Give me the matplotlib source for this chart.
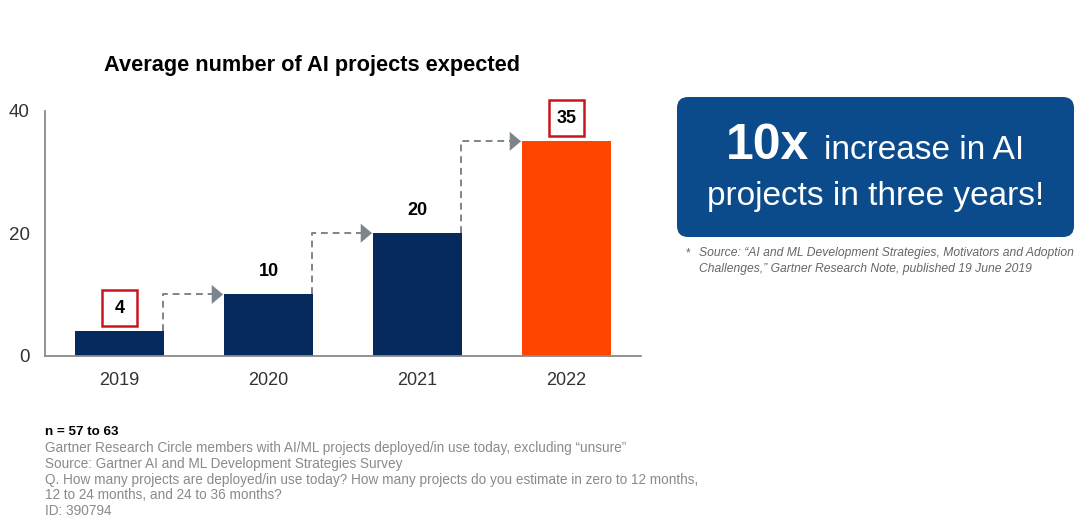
import matplotlib
matplotlib.use("Agg")
import matplotlib.pyplot as plt
from matplotlib.patches import FancyBboxPatch, Rectangle

plt.rcParams["font.family"] = ["Liberation Sans", "DejaVu Sans"]

# data
years = ["2019", "2020", "2021", "2022"]
projects = [4, 10, 20, 35]
bar_colors = ["#062a5c", "#062a5c", "#062a5c", "#ff4500"]
boxed = [True, False, False, True]
yticks = [0, 20, 40]

title = "Average number of AI projects expected"
notes_bold = "n = 57 to 63"
notes = [
    "Gartner Research Circle members with AI/ML projects deployed/in use today, excluding \u201cunsure\u201d",
    "Source: Gartner AI and ML Development Strategies Survey",
    "Q. How many projects are deployed/in use today? How many projects do you estimate in zero to 12 months,",
    "12 to 24 months, and 24 to 36 months?",
    "ID: 390794",
]
source_lines = [
    "Source: \u201cAI and ML Development Strategies, Motivators and Adoption",
    "Challenges,\u201d Gartner Research Note, published 19 June 2019",
]

W, H = 1080, 523
fig = plt.figure(figsize=(W / 100, H / 100), dpi=100)


def fx(px):
    return px / W


def fy(py):
    return 1 - py / H


ax = fig.add_axes([fx(45), fy(355.7), fx(641) - fx(45), fy(110.7) - fy(355.7)])
x = list(range(len(years)))
bw = 0.6
ax.bar(x, projects, width=bw, color=bar_colors, zorder=2)
ax.set_xlim(-0.5, 3.5)
ax.set_ylim(0, 40)
ax.set_yticks(yticks)
ax.set_xticks(x)
ax.set_xticklabels(years)
ax.tick_params(axis="both", length=0, labelsize=13, labelcolor="#333333")
ax.tick_params(axis="y", labelsize=13.5)
ax.tick_params(axis="x", pad=12)
ax.tick_params(axis="y", pad=11)
for s in ["top", "right"]:
    ax.spines[s].set_visible(False)
for s in ["left", "bottom"]:
    ax.spines[s].set_color("#8a8a8a")
    ax.spines[s].set_linewidth(1.3)

# value labels
for i, v in enumerate(projects):
    ax.text(i, v + 3.7, str(v), ha="center", va="center", fontsize=13,
            fontweight="bold", color="black")
    if boxed[i]:
        ax.add_patch(Rectangle((i - 0.12, v + 0.9), 0.24, 5.85, fill=False,
                               ec="#c8161d", lw=1.8, clip_on=False, zorder=3))

# dashed step arrows between bars
arrow_c = "#7d858c"
for i in range(len(projects) - 1):
    x0 = i + bw / 2 - 0.01
    x1 = i + 1 - bw / 2 - 0.005
    v0, v1 = projects[i], projects[i + 1]
    ax.plot([x0, x0, x1 - 0.06], [v0, v1, v1], color=arrow_c, lw=1.4,
            dashes=(3.5, 2.5), zorder=1)
    ax.annotate("", xy=(x1, v1), xytext=(x1 - 0.08, v1),
                arrowprops=dict(arrowstyle="-|>,head_length=0.5,head_width=0.42",
                                mutation_scale=16, color=arrow_c, lw=0.1,
                                shrinkA=0, shrinkB=0))

fig.text(fx(312), fy(65), title, ha="center", va="center", fontsize=15.7,
         fontweight="bold", color="black")

# callout box
box = FancyBboxPatch((677 / 100, (H - 237) / 100), (1074 - 677) / 100, (237 - 97) / 100,
                     boxstyle="round,pad=0,rounding_size=0.11",
                     transform=fig.dpi_scale_trans, fc="#0b4b8c", ec="none")
fig.add_artist(box)
fig.text(fx(726), fy(159), "10x", ha="left", va="baseline", fontsize=36,
         fontweight="bold", color="white")
fig.text(fx(824), fy(159), "increase in AI", ha="left", va="baseline",
         fontsize=24, color="white")
fig.text(fx(876), fy(205), "projects in three years!", ha="center", va="baseline",
         fontsize=24, color="white")

fig.text(fx(688), fy(253), "*", ha="center", va="center", fontsize=8.5, color="#666666")
for k, line in enumerate(source_lines):
    fig.text(fx(699), fy(253 + 16 * k), line, ha="left", va="center", fontsize=8.7,
             style="italic", color="#666666")

# bottom notes
fig.text(fx(45), fy(432), notes_bold, ha="left", va="center", fontsize=9.6,
         fontweight="bold", color="black")
for k, line in enumerate(notes):
    fig.text(fx(45), fy(448 + 15.8 * k), line, ha="left", va="center", fontsize=9.8,
             color="#8a8a8a")

fig.savefig("out.png", dpi=100)
